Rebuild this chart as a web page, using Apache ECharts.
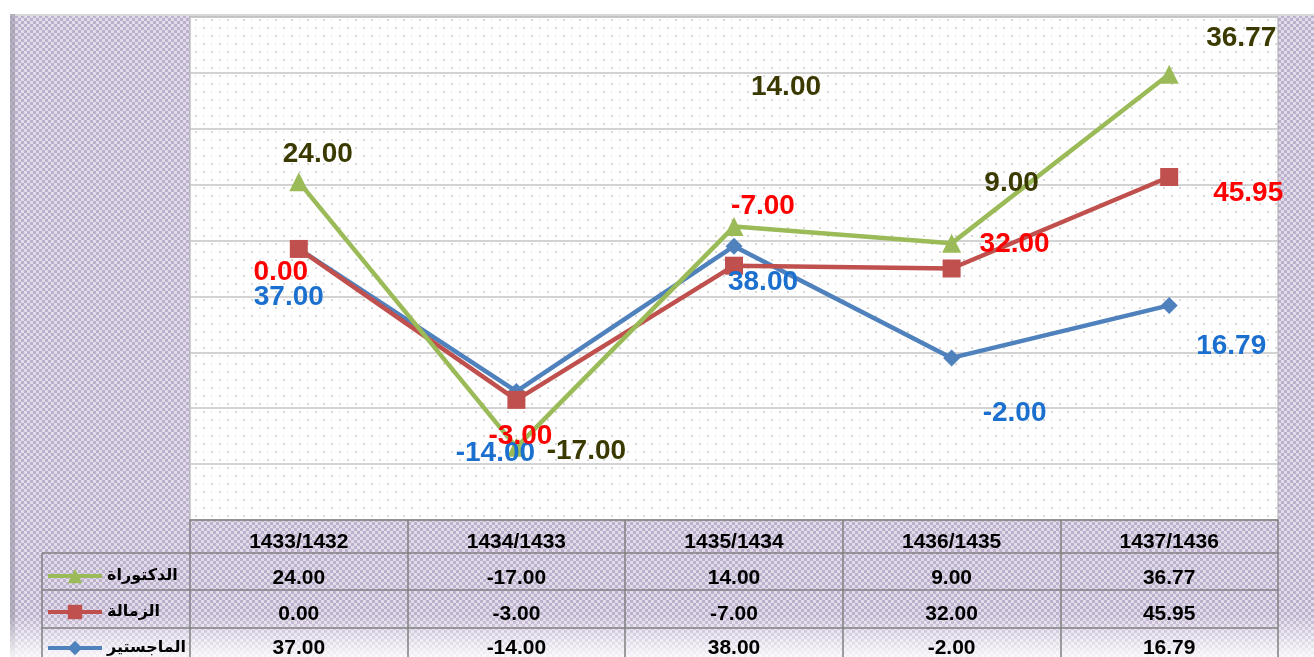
<!DOCTYPE html>
<html>
<head>
<meta charset="utf-8">
<script src="https://cdn.jsdelivr.net/npm/echarts@6/dist/echarts.min.js"></script>
<style>
html, body { margin: 0; padding: 0; background: #fff; }
#chart { width: 1314px; height: 657px; }
</style>
</head>
<body>
<div id="chart"></div>
<script>
// categories (academic years) and series values
var categories = ['1433/1432', '1434/1433', '1435/1434', '1436/1435', '1437/1436'];
var doctorate = [24.00, -17.00, 14.00, 9.00, 36.77];   // الدكتوراة
var fellowship = [0.00, -3.00, -7.00, 32.00, 45.95];   // الزمالة
var masters = [37.00, -14.00, 38.00, -2.00, 16.79];    // الماجستير
var seriesNames = ['الدكتوراة', 'الزمالة', 'الماجستير'];

// label offsets (pixels) for each point, mimicking manual Excel placement
var doctorateOffsets = [[19, -28], [70, 4], [52, -139], [60, -60], [72, -36]];
var fellowshipOffsets = [[-18, 23], [4, 36], [29, -59], [63, -24], [79, 16]];
var mastersOffsets = [[-10, 48], [-21, 62], [29, 36], [63, 55], [62, 41]];

var chart = echarts.init(document.getElementById('chart'));

// purple checker pattern used by the outer chart area
function checker() {
	var c = document.createElement('canvas');
	c.width = 6; c.height = 6;
	var ctx = c.getContext('2d');
	ctx.fillStyle = '#e2dbea';
	ctx.fillRect(0, 0, 6, 6);
	ctx.fillStyle = '#bcb1cc';
	ctx.fillRect(0, 0, 3, 3);
	ctx.fillRect(3, 3, 3, 3);
	return c;
}
// white with faint grey dots for the plot area
function dots() {
	var c = document.createElement('canvas');
	c.width = 16; c.height = 16;
	var ctx = c.getContext('2d');
	ctx.fillStyle = '#ffffff';
	ctx.fillRect(0, 0, 16, 16);
	ctx.fillStyle = '#d6d6d6';
	ctx.fillRect(3, 3, 2, 2);
	ctx.fillRect(11, 11, 2, 2);
	ctx.fillStyle = '#e6e6e6';
	ctx.fillRect(11, 3, 1, 2);
	ctx.fillRect(3, 11, 1, 2);
	return c;
}

function fmt(v) { return v.toFixed(2); }

function withOffsets(values, offsets) {
	return values.map(function(v, i) {
		return { value: v, label: { offset: offsets[i] } };
	});
}

var labelBase = {
	show: true,
	position: 'inside',
	fontSize: 28,
	fontWeight: 'bold',
	fontFamily: 'Arial, "Liberation Sans", sans-serif',
	textBorderWidth: 0,
	formatter: function(p) { return fmt(p.value); }
};

var tableFont = {
	fontSize: 21,
	fontWeight: 'bold',
	color: '#000',
	fontFamily: 'Arial, "Liberation Sans", sans-serif',
	margin: 12
};

function tableRow(values, offset) {
	return {
		type: 'category',
		gridIndex: 0,
		position: 'bottom',
		offset: offset,
		data: values.map(fmt),
		axisLine: { show: false },
		axisTick: { show: false },
		splitLine: { show: false },
		axisLabel: tableFont
	};
}

function legendRow(name, top) {
	return {
		orient: 'vertical',
		left: 46,
		top: top,
		padding: 0,
		itemWidth: 54,
		itemHeight: 18,
		lineStyle: { width: 4 },
		data: [name],
		textStyle: {
			fontSize: 16,
			fontWeight: 'bold',
			color: '#000',
			fontFamily: 'Arial, "DejaVu Sans", sans-serif'
		}
	};
}

var option = {
	animation: false,
	backgroundColor: '#ffffff',
	grid: {
		left: 190,
		right: 36,
		top: 17,
		bottom: 137,
		containLabel: false,
		outerBoundsMode: 'none',
		show: true,
		backgroundColor: { image: dots(), repeat: 'repeat' },
		borderColor: '#a8a8a8',
		borderWidth: 1
	},
	legend: [
		legendRow(seriesNames[0], 568),
		legendRow(seriesNames[1], 604),
		legendRow(seriesNames[2], 640)
	],
	xAxis: [{
		type: 'category',
		data: categories,
		boundaryGap: true,
		axisLine: { onZero: false, lineStyle: { color: '#808080', width: 1.5 } },
		axisTick: { show: true, length: 140, alignWithLabel: false, lineStyle: { color: '#808080', width: 1.5 } },
		axisLabel: tableFont
	},
		tableRow(doctorate, 36),
		tableRow(fellowship, 72),
		tableRow(masters, 106)
	],
	yAxis: {
		type: 'value',
		min: -60,
		max: 120,
		interval: 20,
		axisLabel: { show: false },
		axisLine: { show: false },
		axisTick: { show: false },
		splitLine: { lineStyle: { color: '#c4c4c4', width: 1.5 } }
	},
	series: [{
		name: seriesNames[2],
		type: 'line',
		stack: 'total',
		stackStrategy: 'all',
		data: withOffsets(masters, mastersOffsets),
		symbol: 'diamond',
		symbolSize: 17,
		lineStyle: { width: 4.5, color: '#4f81bd' },
		itemStyle: { color: '#4f81bd' },
		label: Object.assign({}, labelBase, { color: '#1a6fcf' })
	}, {
		name: seriesNames[1],
		type: 'line',
		stack: 'total',
		stackStrategy: 'all',
		data: withOffsets(fellowship, fellowshipOffsets),
		symbol: 'rect',
		symbolSize: 18,
		lineStyle: { width: 4.5, color: '#c0504d' },
		itemStyle: { color: '#c0504d' },
		label: Object.assign({}, labelBase, { color: '#ff0000' })
	}, {
		name: seriesNames[0],
		type: 'line',
		stack: 'total',
		stackStrategy: 'all',
		data: withOffsets(doctorate, doctorateOffsets),
		symbol: 'triangle',
		symbolSize: 19,
		lineStyle: { width: 4.5, color: '#9bbb59' },
		itemStyle: { color: '#9bbb59' },
		label: Object.assign({}, labelBase, { color: '#3a3a00' })
	}],
	graphic: [
		// outer patterned chart area
		{ type: 'rect', z: -10, shape: { x: 10, y: 14, width: 1304, height: 643 },
			style: { fill: { image: checker(), repeat: 'repeat' } } },
		{ type: 'rect', z: -9, shape: { x: 10, y: 14, width: 1304, height: 2 },
			style: { fill: '#d8d8d8' } },
		{ type: 'rect', z: -9, shape: { x: 10, y: 14, width: 5, height: 643 },
			style: { fill: '#9d97a6', opacity: 0.6 } },
		{ type: 'rect', z: -9, shape: { x: 10, y: 615, width: 1304, height: 42 },
			style: { fill: new echarts.graphic.LinearGradient(0, 0, 0, 1, [
				{ offset: 0, color: 'rgba(255,255,255,0)' },
				{ offset: 1, color: 'rgba(255,255,255,0.85)' }
			]) } },
		// table lines for the legend column
		{ type: 'line', z: 10, shape: { x1: 42, y1: 553, x2: 1278, y2: 553 },
			style: { stroke: '#808080', lineWidth: 1.5 } },
		{ type: 'line', z: 10, shape: { x1: 42, y1: 590, x2: 1278, y2: 590 },
			style: { stroke: '#808080', lineWidth: 1.5 } },
		{ type: 'line', z: 10, shape: { x1: 42, y1: 628, x2: 1278, y2: 628 },
			style: { stroke: '#808080', lineWidth: 1.5 } },
		{ type: 'line', z: 10, shape: { x1: 42, y1: 553, x2: 42, y2: 657 },
			style: { stroke: '#808080', lineWidth: 1.5 } }
	]
};

chart.setOption(option);
</script>
</body>
</html>
